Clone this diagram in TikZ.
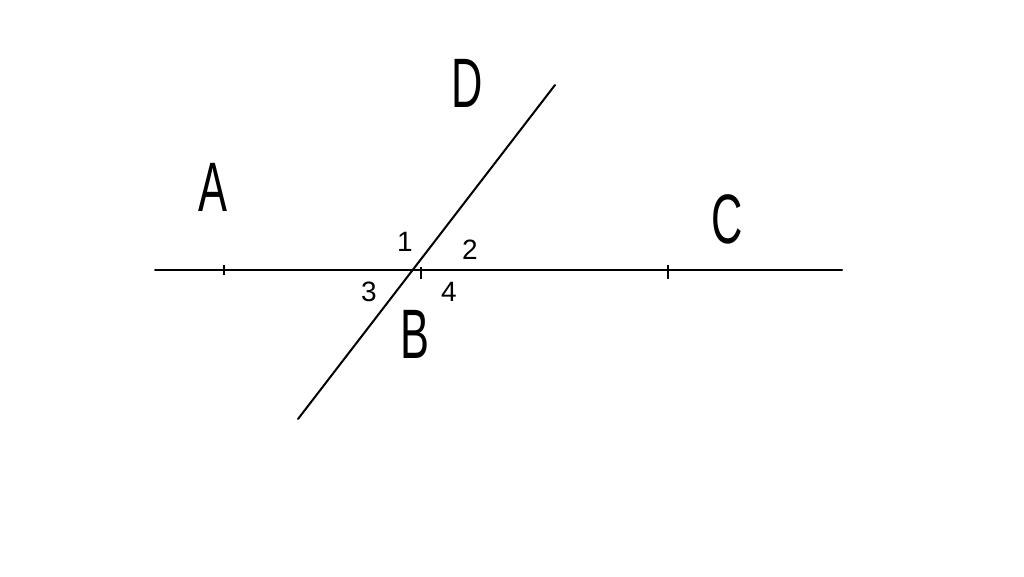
\documentclass[tikz,border=0pt]{standalone}
\usepackage{fontspec}
\setmainfont{Liberation Sans}
\newcommand{\narrowtxt}[1]{\scalebox{0.62}[1]{#1}}
\begin{document}
\begin{tikzpicture}[x=1pt,y=-1pt,
  ln/.style={line width=2pt,line cap=round},
  tk/.style={line width=2pt},
  big/.style={inner sep=0pt,font=\fontsize{70}{70}\selectfont},
  num/.style={inner sep=0pt,font=\fontsize{28}{28}\selectfont}]
\useasboundingbox[fill=white] (0,0) rectangle (1024,576);
\coordinate (hl) at (155,270);
\coordinate (hr) at (842,270);
\coordinate (dl) at (298,419);
\coordinate (du) at (555,85);
\draw[ln] (hl) -- (hr);
\draw[ln] (dl) -- (du);
\coordinate (t1a) at (224,265); \coordinate (t1b) at (224,275);
\coordinate (t2a) at (421,267); \coordinate (t2b) at (421,279);
\coordinate (t3a) at (668,265); \coordinate (t3b) at (668,279);
\draw[tk] (t1a) -- (t1b);
\draw[tk] (t2a) -- (t2b);
\draw[tk] (t3a) -- (t3b);
\node[big] (A) at (213,187) {\narrowtxt{A}};
\node[big] (D) at (467,83) {\narrowtxt{D}};
\node[big] (C) at (727,219) {\narrowtxt{C}};
\node[big] (B) at (415,334) {\narrowtxt{B}};
\node[num] (n1) at (405,242) {1};
\node[num] (n2) at (470,250) {2};
\node[num] (n3) at (369,292) {3};
\node[num] (n4) at (449,292) {4};
\end{tikzpicture}
\end{document}
